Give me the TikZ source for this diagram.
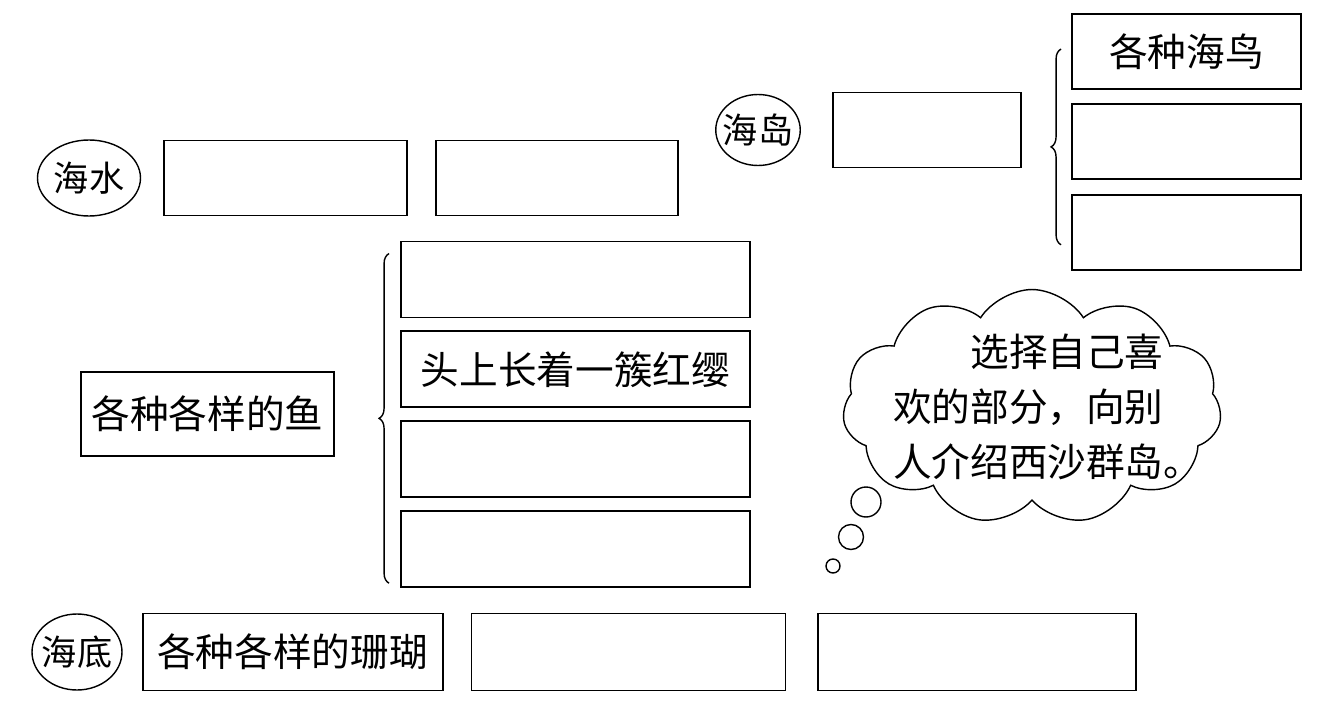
\documentclass[tikz,border=0pt]{standalone}
\usepackage{fontspec}
\newfontfamily\cjk{Noto Sans CJK SC}
\usetikzlibrary{positioning}
\usetikzlibrary{shapes.geometric}
\usetikzlibrary{shapes.symbols}
\usetikzlibrary{decorations.pathreplacing}

\begin{document}
\begin{tikzpicture}[
    x=0.02cm, y=-0.02cm,
    node distance=0.54cm,
    tag/.style={ellipse, draw, line width=0.8pt, inner sep=-3pt,
      minimum height=1.52cm, font=\cjk\fontsize{20}{24}\selectfont},
    box/.style={rectangle, draw, line width=1.1pt, inner sep=0pt,
      minimum height=1.5cm, font=\cjk\fontsize{22}{26}\selectfont},
    brace/.style={decorate, decoration={brace, amplitude=0.2cm},
      line width=0.8pt},
    bubble/.style={circle, draw, line width=0.8pt, inner sep=0pt},
  ]
    \useasboundingbox (0,0) rectangle (1321,716);

    % sea water
    \node[tag, minimum width=2.06cm] (water) at (89,178) {海水};
    \node[box, minimum width=4.86cm, right=0.44cm of water] (waterA) {};
    \node[box, minimum width=4.84cm, right=of waterA] (waterB) {};

    % island
    \node[tag, minimum width=1.68cm, minimum height=1.42cm] (island) at (758,130) {海岛};
    \node[box, minimum width=3.76cm, right=0.62cm of island] (islandA) {};
    \node[box, minimum width=4.58cm] (birdA) at (1186.5,51.5) {各种海鸟};
    \node[box, minimum width=4.58cm, below=0.27cm of birdA] (birdB) {};
    \node[box, minimum width=4.58cm, below=0.27cm of birdB] (birdC) {};
    \draw[brace] ([shift={(-0.2cm,0.52cm)}]birdC.south west)
      -- ([shift={(-0.2cm,-0.72cm)}]birdA.north west);

    % fish
    \node[box, minimum width=5.06cm, minimum height=1.68cm] (fishes) at (207.5,414) {各种各样的鱼};
    \node[box, minimum width=6.98cm, minimum height=1.52cm] (fishA) at (575.5,279.5) {};
    \node[box, minimum width=6.98cm, minimum height=1.52cm, below=0.24cm of fishA] (fishB) {头上长着一簇红缨};
    \node[box, minimum width=6.98cm, minimum height=1.52cm, below=0.24cm of fishB] (fishC) {};
    \node[box, minimum width=6.98cm, minimum height=1.52cm, below=0.24cm of fishC] (fishD) {};
    \draw[brace] ([shift={(-0.22cm,0.1cm)}]fishD.south west)
      -- ([shift={(-0.22cm,-0.26cm)}]fishA.north west);

    % sea bed
    \node[tag, minimum width=1.8cm] (seabed) at (77,652) {海底};
    \node[box, minimum width=6cm, minimum height=1.54cm, right=0.38cm of seabed] (coral) {各种各样的珊瑚};
    \node[box, minimum width=6.28cm, minimum height=1.54cm, right=of coral] (bedA) {};
    \node[box, minimum width=6.36cm, minimum height=1.54cm, right=0.62cm of bedA] (bedB) {};

    % thought cloud
    \node[cloud, draw, line width=0.8pt, cloud puffs=11, cloud puff arc=115,
      cloud ignores aspect, minimum width=7.58cm, minimum height=4.7cm,
      inner sep=0pt] (cloud) at (1032,407) {};
    \node[align=left, font=\cjk\fontsize{22}{31.5}\selectfont]
      (say) at ([xshift=0.12cm]cloud.center)
      {\hspace{2em}选择自己喜\\欢的部分，向别\\人介绍西沙群岛\makebox[0.5em][l]{。}};
    \node[bubble, minimum size=0.6cm] (bubbleA) at (866,502) {};
    \node[bubble, minimum size=0.5cm] (bubbleB) at (851,537) {};
    \node[bubble, minimum size=0.28cm] (bubbleC) at (833,566) {};
\end{tikzpicture}
\end{document}
